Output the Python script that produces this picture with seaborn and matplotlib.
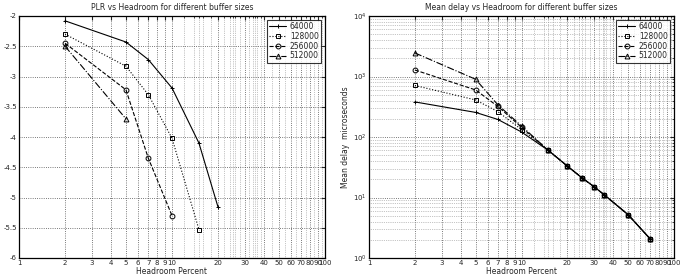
import numpy as np
import pandas as pd
import seaborn as sns
import matplotlib.pyplot as plt
from matplotlib.ticker import FixedLocator, NullFormatter

### Data ##########################################################################

buffers = ['64000', '128000', '256000', '512000']

# PLR (log10) vs headroom
plr_x = {
    '64000': [2, 5, 7, 10, 15, 20],
    '128000': [2, 5, 7, 10, 15],
    '256000': [2, 5, 7, 10],
    '512000': [2, 5],
}
plr_y = {
    '64000': [-2.08, -2.43, -2.72, -3.19, -4.10, -5.16],
    '128000': [-2.30, -2.83, -3.30, -4.02, -5.53],
    '256000': [-2.45, -3.22, -4.35, -5.30],
    '512000': [-2.50, -3.70],
}

# Mean delay (microseconds) vs headroom
delay_x = [2, 5, 7, 10, 15, 20, 25, 30, 35, 50, 70]
delay_y = {
    '64000': [380, 255, 195, 121, 60, 33, 21, 15, 11, 5.2, 2.05],
    '128000': [710, 410, 262, 133, 60, 33, 21, 15, 11, 5.2, 2.05],
    '256000': [1280, 600, 320, 145, 60, 33, 21, 15, 11, 5.2, 2.05],
    '512000': [2450, 900, 340, 152, 60, 33, 21, 15, 11, 5.2, 2.05],
}

styles = {
    '64000': dict(marker='+', ls='-'),
    '128000': dict(marker='s', ls=':'),
    '256000': dict(marker='o', ls='--'),
    '512000': dict(marker='^', ls='-.'),
}

plr = pd.DataFrame([(b, x, y) for b in buffers for x, y in zip(plr_x[b], plr_y[b])],
                   columns=['buffer', 'headroom', 'plr'])
delay = pd.DataFrame([(b, x, y) for b in buffers for x, y in zip(delay_x, delay_y[b])],
                     columns=['buffer', 'headroom', 'delay'])

### Plot ##########################################################################

sns.set_style("white")
plt.rcParams['font.family'] = ['DejaVu Sans']
plt.rcParams['font.size'] = 5

fig = plt.figure(figsize=(6.84, 2.78), dpi=100)
ax1 = fig.add_axes([19/684, 20/278, 306/684, 242/278])
ax2 = fig.add_axes([369/684, 20/278, 305/684, 242/278])

major_x = [1, 2, 3, 4, 5, 6, 7, 8, 9, 10, 20, 30, 40, 50, 60, 70, 80, 90, 100]
minor_x = [12, 14, 15, 16, 18, 22, 24, 25, 26, 28, 32, 34, 35, 36, 38,
           45, 55, 65, 75, 85, 95]


def draw(ax, df, ycol):
    for b in buffers:
        sub = df[df['buffer'] == b]
        st = styles[b]
        sns.lineplot(data=sub, x='headroom', y=ycol, ax=ax, color='black',
                     linestyle=st['ls'], marker=st['marker'], markersize=3.5,
                     markerfacecolor='none', markeredgecolor='black',
                     markeredgewidth=0.7, linewidth=0.8, label=b)
    ax.set_xscale('log')
    ax.set_xlim(1, 100)
    ax.xaxis.set_major_locator(FixedLocator(major_x))
    ax.set_xticklabels([str(v) for v in major_x])
    ax.xaxis.set_minor_locator(FixedLocator(minor_x))
    ax.xaxis.set_minor_formatter(NullFormatter())
    ax.grid(True, which='major', axis='x', color='0.3', ls=':', lw=0.6)
    ax.grid(True, which='minor', axis='x', color='0.55', ls=':', lw=0.5)
    ax.grid(True, which='major', axis='y', color='0.3', ls=':', lw=0.6)
    ax.tick_params(axis='both', which='major', labelsize=5, length=3,
                   direction='in', top=True, right=True, pad=1.5)
    ax.tick_params(axis='both', which='minor', length=1.5, direction='in',
                   top=True, right=True)
    for s in ax.spines.values():
        s.set_color('black')
        s.set_linewidth(0.9)
    ax.set_xlabel('Headroom Percent', fontsize=5.5, labelpad=0.5)
    leg = ax.legend(loc='upper right', fontsize=5.5, frameon=True, fancybox=False,
                    edgecolor='black', handlelength=2.2, borderpad=0.3,
                    labelspacing=0.1, handletextpad=0.5)
    leg.get_frame().set_linewidth(0.8)


draw(ax1, plr, 'plr')
ax1.set_ylim(-6, -2)
ax1.set_yticks([-6, -5.5, -5, -4.5, -4, -3.5, -3, -2.5, -2])
ax1.set_yticklabels(['-6', '-5.5', '-5', '-4.5', '-4', '-3.5', '-3', '-2.5', '-2'])
ax1.set_ylabel('log10(PLR)', fontsize=5.5)
ax1.yaxis.set_label_coords(-0.072, 0.55)
ax1.set_title('PLR vs Headroom for different buffer sizes', fontsize=5.5, pad=4)

draw(ax2, delay, 'delay')
ax2.set_yscale('log')
ax2.set_ylim(1, 1e4)
ax2.grid(True, which='minor', axis='y', color='0.55', ls=':', lw=0.5)
ax2.set_ylabel('Mean delay  microseconds', fontsize=5.5, labelpad=2)
ax2.set_title('Mean delay vs Headroom for different buffer sizes', fontsize=5.5, pad=4)

fig.savefig('out.png', dpi=100)
